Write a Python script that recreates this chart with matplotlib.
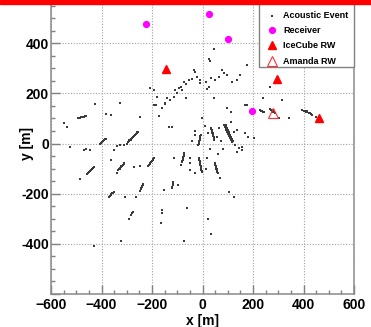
import numpy as np
import matplotlib.pyplot as plt
from matplotlib.ticker import MultipleLocator, FuncFormatter
from matplotlib.patches import Rectangle

plt.rcParams['font.family'] = ['Liberation Sans', 'DejaVu Sans']
plt.rcParams['font.weight'] = 'bold'

# acoustic event positions [m], grouped by the streak / region they fall in
west_x = [-492, -486, -480, -476, -470, -465, -460,
          -405, -402, -399, -398, -396, -394, -393, -390, -387, -384,
          -300, -296, -292, -290, -288, -285, -282, -278, -275, -271, -267, -264, -261, -258, -255, -310]
west_y = [100, 103, 104, 106, 107, 108, 110,
          0, 3, 6, 5, 8, 10, 11, 13, 16, 18,
          0, 4, 8, 14, 12, 15, 18, 22, 26, 30, 34, 37, 41, 44, 47, -5]

southwest_x = [-456, -452, -449, -446, -443, -440, -437, -434, -431,
               -334, -330, -328, -327, -324, -321, -320, -318, -315, -312, -309,
               -215, -212, -209, -206, -203, -200, -198, -196, -194,
               -81, -80, -79, -78, -77, -76, -75, -74, -73, -72]
southwest_y = [-123, -118, -114, -110, -107, -104, -100, -97, -93,
               -107, -102, -100, -98, -95, -91, -90, -88, -85, -81, -78,
               -88, -84, -80, -76, -72, -68, -64, -61, -58,
               -73, -68, -64, -60, -56, -52, -48, -45, -42, -39]

south_x = [-120, -119, -118, -117, -116, -115,
           -372, -368, -364, -361, -358, -355, -352,
           -246, -244, -242, -240, -238, -236, -235,
           -292, -285, -278, -275, -160, -160, -166]
south_y = [-178, -172, -167, -163, -158, -153,
           -214, -210, -206, -203, -199, -196, -192,
           -188, -183, -178, -174, -170, -166, -163,
           -302, -285, -276, -272, -265, -278, -315]

center_x = [-16, -15, -14, -14, -13, -13, -12, -12, -11, -11, -10, -10, -9, -9, -8, -8, -7, -6,
            34, 35, 36, 37, 38, 39, 40, 41, 42, 42, 43, 44, 45, 46, 47,
            87, 89, 90, 92, 93, 95, 96, 98, 99, 101, 102, 104, 106, 107, 109, 111, 113, 115, 117,
            93, 95, 96, 98, 100, 101, 103, 105, 106, 108, 110, 111, 113, 115, 117, 119, 121,
            90, 94, 97, 91, 99, 104,
            -13, -14, -12, -11, -10, -9, -9, -8, -7, -6, -5, -4, -3, -2,
            49, 50, 51, 52, 52, 53, 54, 55, 56, 57, 58, 59, 61]
center_y = [-6, -2, 2, 0, 5, 8, 11, 9, 14, 17, 20, 18, 23, 26, 29, 27, 32, 34,
            60, 56, 52, 48, 44, 42, 40, 36, 32, 30, 28, 24, 20, 17, 14,
            74, 70, 66, 62, 58, 55, 51, 47, 44, 40, 36, 32, 28, 25, 21, 17, 13, 10, 7,
            72, 68, 63, 59, 55, 51, 47, 43, 39, 35, 31, 27, 23, 19, 15, 11, 8,
            68, 64, 60, 72, 50, 42,
            -59, -62, -64, -69, -74, -79, -81, -84, -89, -94, -99, -104, -108, -112,
            -79, -83, -87, -91, -89, -95, -99, -103, -100, -107, -111, -115, -119]

east_x = [227, 231, 235, 239, 243,
          269, 272, 275, 276, 278, 280, 281, 284, 287, 289,
          395, 400, 405, 410, 412, 415, 420, 425, 430, 434, 448]
east_y = [133, 131, 129, 127, 124,
          137, 134, 132, 128, 130, 131, 127, 124, 122, 120,
          133, 131, 129, 127, 128, 124, 122, 120, 117, 114, 107]

# sparse single hits
sparse_x = [25, 29, -34, -28, -21, -41, -54, -74, -67, -87, -94, -107, -80, -100, -114, -140, -127,
            -147, -160, -186, -67, -8, -8, 12, 32, 51, 65, 84, 98, 117, 150, 78, 45, 98, 111, 177,
            177, -206, -193, 16, 25, -180, 45, 267, 316, 137, 239, 342, 302, 170,
            -427, -549, -536, -384, -364, -246, -173, -193, -147, -133, -523, -470, -444, -351,
            -325, -364, -486, -338, -272, -246, -87, -48, -48, -305, -325, -461, -338, -114,
            -120, -28, -1, 58, 144, 157, -48, -28, 19, 71, 203, 170, 180, 135, 111, 157, 135,
            -265, -166, -61, -321, -430, -74, 20, 35, -63, 103, 123, -153, -99,
            -30, 10, 20, 65, 75, 125, 130, 80, 30, -40, 60, 15]
sparse_y = [337, 329, 293, 286, 266, 257, 253, 244, 236, 226, 220, 213, 213, 200, 186, 180, 173,
            156, 140, 153, 180, 240, 253, 246, 260, 253, 266, 280, 273, 244, 273, 293, 180, 140, 127, 313,
            153, 220, 213, 217, 226, 186, 375, 224, 173, 253, 182, 100, 103, 153,
            156, 80, 65, 117, 114, 104, 110, 153, 160, 67, -13, -26, -26, -26,
            -6, -66, -143, -119, -95, -90, -86, -59, -106, -212, 160, -23, -9, -59,
            67, 34, 100, 27, -19, -26, -79, -119, -59, -139, 21, 41, 27, 54, 87, -13, -35,
            -212, -315, -258, -387, -407, -387, -300, -360, -257, -193, -213, -185, -165,
            50, 70, 40, 60, 10, 45, -5, -20, -20, 10, -40, -100]

receiver_x = [-223, 24, 102, 197]
receiver_y = [475, 515, 415, 128]

icecube_x = [-145, 297, 461]
icecube_y = [297, 256, 103]

amanda_x = [278]
amanda_y = [120]

event_x = np.concatenate([west_x, southwest_x, south_x, center_x, east_x, sparse_x])
event_y = np.concatenate([west_y, southwest_y, south_y, center_y, east_y, sparse_y])

W, H = 371, 327
fig = plt.figure(figsize=(W / 100, H / 100), dpi=100)
ax = fig.add_axes([51 / W, 33 / H, 303 / W, 301 / H])

ax.scatter(event_x, event_y, s=0.6, marker='s', color='#3a3a3a', linewidths=0,
           label='Acoustic Event', zorder=3)
ax.plot(receiver_x, receiver_y, 'o', color='#ff00ff', ms=4.2, mec='#ff00ff',
        linestyle='none', label='Receiver', zorder=4)
ax.plot(icecube_x, icecube_y, '^', color='red', ms=5.2, linestyle='none',
        label='IceCube RW', zorder=4)
ax.plot(amanda_x, amanda_y, '^', mfc='none', mec='#ff3030', mew=0.8, ms=6.5,
        linestyle='none', label='Amanda RW', zorder=4)

ax.set_xlim(-600, 600)
ax.set_ylim(-600, 600)
ax.xaxis.set_major_locator(MultipleLocator(200))
ax.yaxis.set_major_locator(MultipleLocator(200))
ax.xaxis.set_minor_locator(MultipleLocator(50))
ax.yaxis.set_minor_locator(MultipleLocator(50))
ax.yaxis.set_major_formatter(FuncFormatter(lambda v, p: '' if abs(v) >= 600 else f'{v:.0f}'))
ax.tick_params(which='both', direction='in', color='#808080', width=1.0,
               labelsize=10, top=False, right=False)
ax.tick_params(axis='x', pad=3)
ax.tick_params(axis='y', pad=1.5)
ax.tick_params(which='major', length=6.5)
ax.tick_params(which='minor', length=3)
for lbl in ax.get_xticklabels() + ax.get_yticklabels():
    lbl.set_fontweight('bold')

ax.grid(True, which='major', color='#a0a0a0', linestyle=(0, (1, 1.5)), linewidth=0.8)
ax.set_axisbelow(True)
for sp in ax.spines.values():
    sp.set_color('#8a8a8a')
    sp.set_linewidth(1.1)

ax.set_xlabel('x [m]', fontsize=10, fontweight='bold', labelpad=1)
ax.set_ylabel('y [m]', fontsize=10, fontweight='bold', va='center')
ax.yaxis.set_label_coords(-24 / 303, 0.5)

# legend box, then the entries inside it without their own frame
ax.add_patch(Rectangle((259 / W, 1 - 67 / H), 95 / W, 80 / H, transform=fig.transFigure,
                       facecolor='white', edgecolor='#808080', linewidth=1.0,
                       zorder=5, clip_on=False))
leg = ax.legend(loc='upper left', bbox_to_anchor=(266.5 / W, 1 - 11 / H),
                bbox_transform=fig.transFigure, fontsize=6.5, frameon=False,
                borderaxespad=0, borderpad=0, handlelength=1.2, handletextpad=0.62,
                labelspacing=0.69)
leg.set_zorder(6)
for t in leg.get_texts():
    t.set_fontweight('bold')

# red strip along the top edge
fig.add_artist(Rectangle((0, 1 - 4 / H), 1, 4 / H, transform=fig.transFigure,
                         color='red', zorder=10))

fig.savefig('out.png', dpi=100)
